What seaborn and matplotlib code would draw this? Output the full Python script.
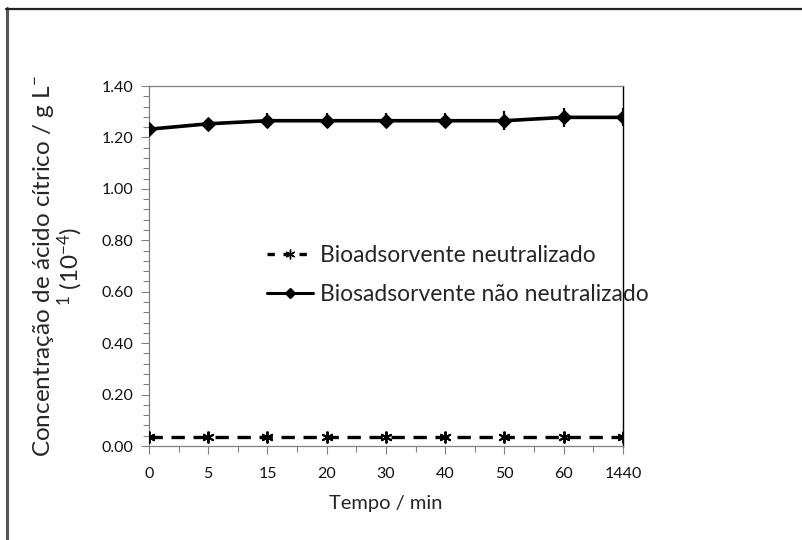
import matplotlib
matplotlib.use("Agg")
import matplotlib.pyplot as plt
from matplotlib.lines import Line2D
from matplotlib.ticker import MultipleLocator
import seaborn as sns
import pandas as pd
import numpy as np

tempos = ["0", "5", "15", "20", "30", "40", "50", "60", "1440"]
nao_neutralizado = [1.232, 1.253, 1.265, 1.265, 1.265, 1.265, 1.265, 1.278, 1.278]
nao_neutralizado_err = [0.02, 0.02, 0.03, 0.03, 0.03, 0.03, 0.037, 0.038, 0.035]
neutralizado = [0.035, 0.035, 0.035, 0.035, 0.035, 0.035, 0.035, 0.035, 0.035]
label_neut = "Bioadsorvente neutralizado"
label_nao = "Biosadsorvente não neutralizado"

sns.set_theme(style="white")
plt.rcParams['font.family'] = ['Lato', 'DejaVu Sans']
plt.rcParams['mathtext.fontset'] = 'custom'
plt.rcParams['mathtext.rm'] = 'Lato'
plt.rcParams['mathtext.it'] = 'Lato'

fig = plt.figure(figsize=(8.03, 5.40), dpi=100)
ax = fig.add_axes([149/803, 1-446/540, (623-149)/803, (446-86)/540])

pos = np.arange(len(tempos))
df = pd.DataFrame({"pos": pos, "nao": nao_neutralizado, "neut": neutralizado})

ax.errorbar(pos, nao_neutralizado, yerr=nao_neutralizado_err, fmt='none',
            ecolor='black', elinewidth=1.6, capsize=0, zorder=3)
sns.lineplot(data=df, x="pos", y="nao", ax=ax, color='black', linewidth=2.6,
             marker='D', markersize=7, markeredgecolor='black', markerfacecolor='black',
             zorder=4)
sns.lineplot(data=df, x="pos", y="neut", ax=ax, color='black', linewidth=2.4,
             linestyle=(0, (4, 2.6)), marker=(6, 2, 0), markersize=8.5,
             markeredgewidth=1.4, markeredgecolor='black', zorder=4)

ax.set_xlim(0, len(tempos) - 1)
ax.set_ylim(0, 1.40)
ax.set_xticks(pos)
ax.set_xticklabels(tempos)
ax.set_xticks(pos[:-1] + 0.5, minor=True)
ax.yaxis.set_major_locator(MultipleLocator(0.2))
ax.yaxis.set_minor_locator(MultipleLocator(0.04))
ax.set_yticklabels([f"{v:.2f}" for v in ax.get_yticks()])
ax.tick_params(axis='both', which='both', direction='out', colors='#808080',
               labelcolor='#111111', labelsize=11.5)
ax.tick_params(axis='both', which='major', length=6, width=0.8, left=True, bottom=True)
ax.tick_params(axis='both', which='minor', length=4, width=0.8, left=True, bottom=True)
ax.tick_params(axis='x', pad=9)
ax.tick_params(axis='y', pad=5)

for s in ['left', 'bottom', 'top']:
    ax.spines[s].set_color('#808080')
    ax.spines[s].set_linewidth(0.9)
ax.spines['right'].set_color('black')
ax.spines['right'].set_linewidth(1.0)

ax.set_xlabel("Tempo / min", fontsize=14.5, labelpad=10)
ax.set_ylabel("Concentração de ácido cítrico / g L$^{-}$\n$^{1}$ (10$^{-4}$)",
              fontsize=17.5, labelpad=12, linespacing=1.0)

handles = [
    Line2D([], [], color='black', linewidth=2.4, linestyle=(0, (2.2, 2.6)),
           marker=(6, 2, 0), markersize=7, markeredgewidth=1.0),
    Line2D([], [], color='black', linewidth=2.2, marker='D', markersize=5),
]
ax.legend(handles, [label_neut, label_nao], loc='center left',
          bbox_to_anchor=(0.205, 0.475), frameon=False, fontsize=16.5,
          handlelength=2.0, handletextpad=0.3, labelspacing=0.75)

# outer frame lines
fig.add_artist(Line2D([7/803, 7/803], [0, 1-8/540], transform=fig.transFigure,
                      color='#555555', linewidth=2.2))
fig.add_artist(Line2D([6/803, 1.0], [1-8.5/540, 1-8.5/540], transform=fig.transFigure,
                      color='#222222', linewidth=1.6))

fig.savefig("out.png", dpi=100)
